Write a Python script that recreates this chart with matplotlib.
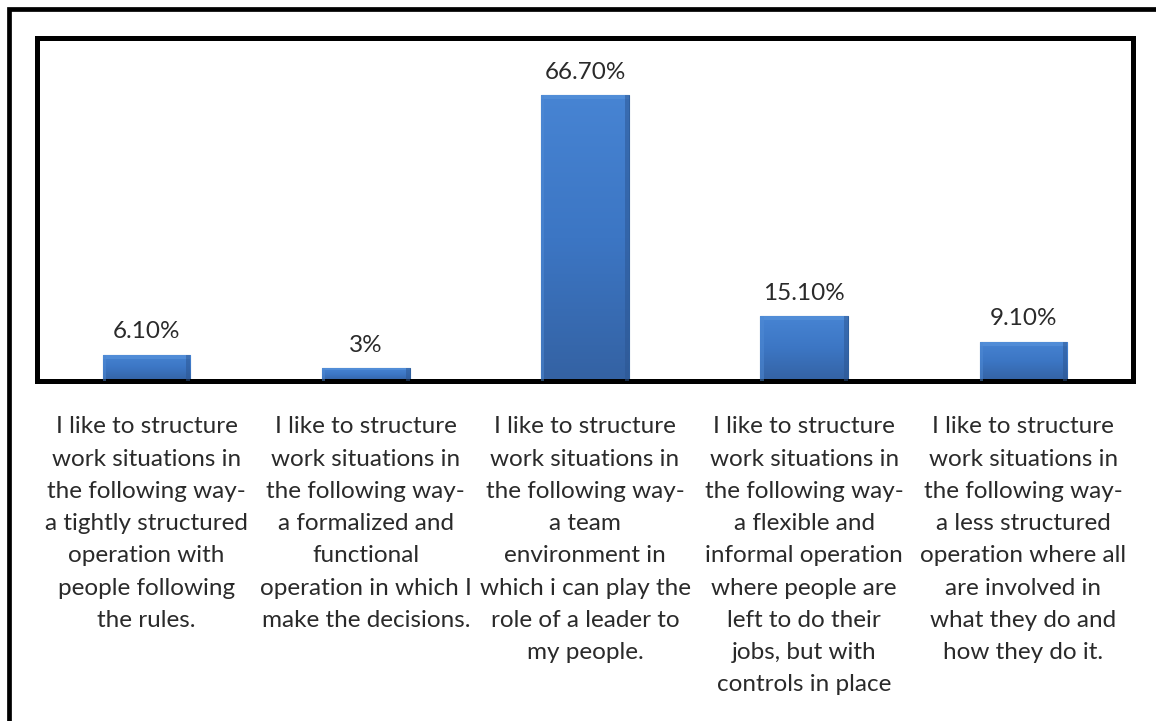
import numpy as np
import matplotlib
matplotlib.use('Agg')
import matplotlib.pyplot as plt
from matplotlib.lines import Line2D
from matplotlib.colors import LinearSegmentedColormap

plt.rcParams['font.family'] = ['Lato', 'DejaVu Sans']

# data
categories = [
    'I like to structure\nwork situations in\nthe following way-\na tightly structured\noperation with\npeople following\nthe rules.',
    'I like to structure\nwork situations in\nthe following way-\na formalized and\nfunctional\noperation in which I\nmake the decisions.',
    'I like to structure\nwork situations in\nthe following way-\na team\nenvironment in\nwhich i can play the\nrole of a leader to\nmy people.',
    'I like to structure\nwork situations in\nthe following way-\na flexible and\ninformal operation\nwhere people are\nleft to do their\njobs, but with\ncontrols in place',
    'I like to structure\nwork situations in\nthe following way-\na less structured\noperation where all\nare involved in\nwhat they do and\nhow they do it.',
]
values = [6.1, 3.0, 66.7, 15.1, 9.1]
value_labels = ['6.10%', '3%', '66.70%', '15.10%', '9.10%']

W, H = 1156, 721
fig = plt.figure(figsize=(W / 100, H / 100), dpi=100)
fig.patch.set_facecolor('white')

# plot area in pixels: x 37..1133, y 38..381
ax = fig.add_axes([37 / W, 1 - 381 / H, (1133 - 37) / W, (381 - 38) / H])
ax.set_xlim(-0.5, len(values) - 0.5)
ax.set_ylim(0, 80)
ax.set_xticks([])
ax.set_yticks([])
for sp in ax.spines.values():
    sp.set_linewidth(3.6)
    sp.set_color('black')

x = np.arange(len(values))
bw = 0.4
bars = ax.bar(x, values, width=bw, color='#3b73c2', edgecolor='#2f5f9e', linewidth=0.8, zorder=2)

# gradient fill on each bar
cmap = LinearSegmentedColormap.from_list('bluegrad', ['#3462a3', '#3c76c4', '#4784d3'])
grad = np.linspace(0, 1, 256).reshape(-1, 1)
for b in bars:
    x0, y0 = b.get_x(), b.get_y()
    w, h = b.get_width(), b.get_height()
    im = ax.imshow(grad, extent=[x0, x0 + w, y0, y0 + h], origin='lower',
                   aspect='auto', cmap=cmap, zorder=2.5)
    im.set_clip_path(b)
    # soft bevel on top and sides
    bev = min(0.9, h * 0.15)
    ax.fill_between([x0, x0 + w], y0 + h - bev, y0 + h, color='#5a95dc', alpha=0.6, lw=0, zorder=3)
    ax.fill_between([x0 + w - 0.018, x0 + w], y0, y0 + h, color='#2c5590', alpha=0.5, lw=0, zorder=3)
    ax.fill_between([x0, x0 + 0.015], y0, y0 + h, color='#4f8ad4', alpha=0.5, lw=0, zorder=3)

for xi, v, lbl in zip(x, values, value_labels):
    ax.annotate(lbl, xy=(xi, v), xytext=(0, 9), textcoords='offset points',
                ha='center', va='bottom', fontsize=17.5, color='#2a2a2a')

for xi, cat in zip(x, categories):
    ax.annotate(cat, xy=(xi, 0), xycoords=('data', 'axes fraction'),
                xytext=(0, -25.5), textcoords='offset points',
                ha='center', va='top', fontsize=17.5, color='#2a2a2a',
                linespacing=1.66, annotation_clip=False)

# outer border (left and top edges visible)
fig.add_artist(Line2D([8.5 / W, 8.5 / W, 1.0], [0.0, 1 - 8.5 / H, 1 - 8.5 / H],
                      transform=fig.transFigure, color='black', lw=3.4,
                      solid_joinstyle='miter'))

fig.savefig('out.png', dpi=100)
